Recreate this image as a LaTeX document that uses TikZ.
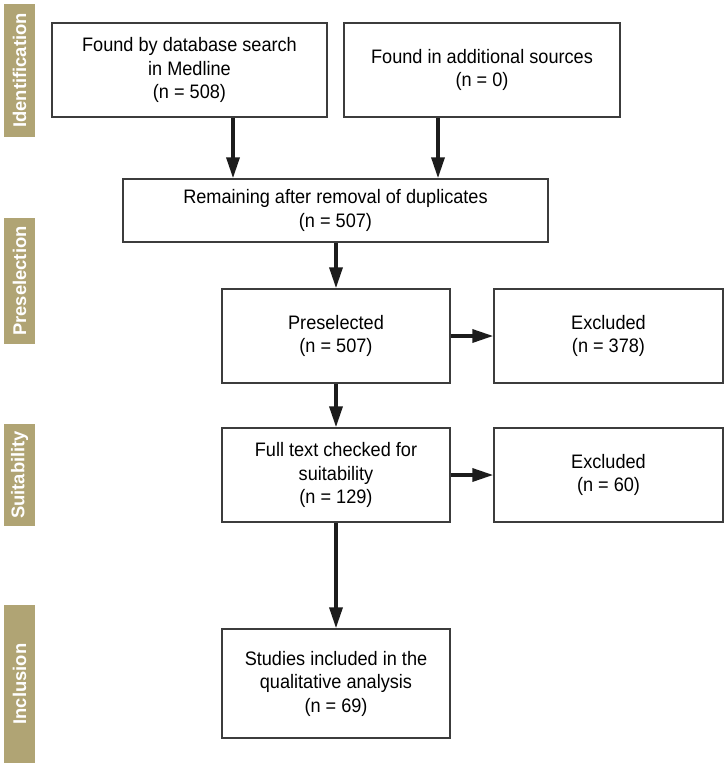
\documentclass[tikz,border=0pt]{standalone}
\usepackage{fontspec}
\setmainfont{Liberation Sans}[FakeStretch=0.93]
\newfontfamily\sidefont{Liberation Sans}
\usetikzlibrary{arrows.meta}
\definecolor{tan}{RGB}{176,164,116}
\definecolor{boxline}{RGB}{60,60,60}
\definecolor{arrowcol}{RGB}{28,28,28}
\begin{document}
\begin{tikzpicture}[x=1pt,y=-1pt,
  flowbox/.style={draw=boxline, line width=1.5pt, fill=white, rectangle, align=center,
    inner sep=0pt, font=\fontsize{19.5}{23.5}\selectfont},
  sidebar/.style={fill=tan, rectangle, inner sep=0pt, minimum height=31pt, rotate=90,
    text=white, font=\sidefont\fontsize{18.4}{22}\selectfont\bfseries},
  arr/.style={draw=arrowcol, line width=3.5pt, -{Triangle[length=21pt,width=13pt]}}
]
\useasboundingbox (0,0) rectangle (727,766);
\fill[white] (0,0) rectangle (727,766);

% side bars
\node[sidebar, minimum width=133pt] (s1) at (19.5,70.5) {Identification};
\node[sidebar, minimum width=126pt] (s2) at (19.5,281) {Preselection};
\node[sidebar, minimum width=102pt] (s3) at (19.5,475) {Suitability};
\node[sidebar, minimum width=158pt] (s4) at (19.5,684) {Inclusion};

% boxes
\node[flowbox, minimum width=275pt, minimum height=94pt] (A) at (189.5,70)
  {Found by database search\\in Medline\\(n = 508)};
\node[flowbox, minimum width=276pt, minimum height=94pt] (B) at (482,70)
  {Found in additional sources\\(n = 0)};
\node[flowbox, minimum width=425pt, minimum height=63pt] (R) at (335.5,210.5)
  {Remaining after removal of duplicates\\(n = 507)};
\node[flowbox, minimum width=228pt, minimum height=94pt] (P) at (336,336)
  {Preselected\\(n = 507)};
\node[flowbox, minimum width=229pt, minimum height=94pt] (E1) at (608.5,336)
  {Excluded\\(n = 378)};
\node[flowbox, minimum width=228pt, minimum height=94pt] (F) at (336,475)
  {Full text checked for\\suitability\\(n = 129)};
\node[flowbox, minimum width=229pt, minimum height=94pt] (E2) at (608.5,475)
  {Excluded\\(n = 60)};
\node[flowbox, minimum width=228pt, minimum height=109pt] (S) at (336,683.5)
  {Studies included in the\\qualitative analysis\\(n = 69)};

% arrows
\coordinate (ca) at (233,0);
\coordinate (cb) at (438,0);
\draw[arr] (A.south -| ca) -- (R.north -| ca);
\draw[arr] (B.south -| cb) -- (R.north -| cb);
\draw[arr] (R.south -| P.north) -- (P.north);
\draw[arr] (P.east) -- (E1.west);
\draw[arr] (P.south) -- (F.north);
\draw[arr] (F.east) -- (E2.west);
\draw[arr] (F.south) -- (S.north);
\end{tikzpicture}
\end{document}
